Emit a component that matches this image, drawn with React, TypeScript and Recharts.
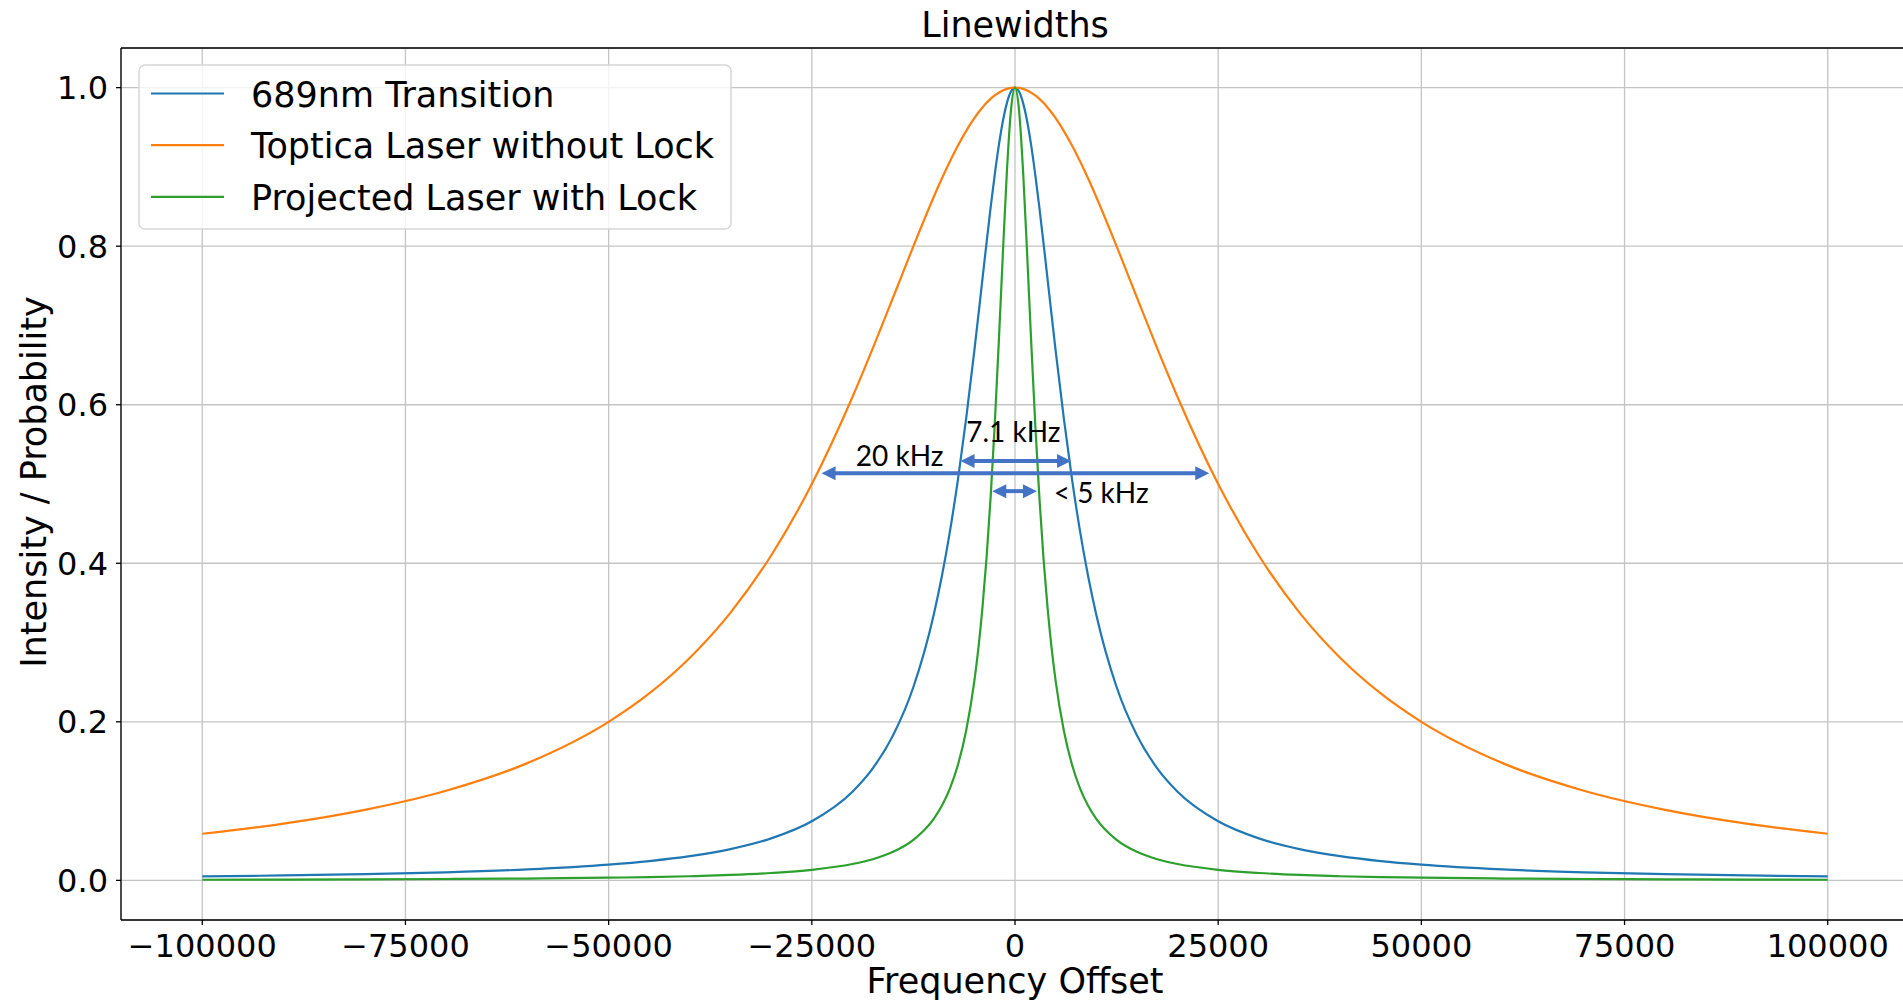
import {
  LineChart,
  Line,
  XAxis,
  YAxis,
  CartesianGrid,
  Legend,
  ReferenceLine,
  ReferenceDot,
} from 'recharts'

const FONT = '"DejaVu Sans", sans-serif'
const NOTE_FONT = 'Lato, "Open Sans", sans-serif'

// frequency offset samples (Hz)
const FREQ = [
  -100000, -90000, -80000, -70000, -60000, -50000, -45000, -40000, -35000, -30000, -25000,
  -20000, -17500, -15000, -12500, -10000, -9000, -8000, -7000, -6000, -5000, -4500, -4000,
  -3500, -3000, -2500, -2000, -1500, -1000, -500, 0, 500, 1000, 1500, 2000, 2500, 3000, 3500,
  4000, 4500, 5000, 6000, 7000, 8000, 9000, 10000, 12500, 15000, 17500, 20000, 25000, 30000,
  35000, 40000, 45000, 50000, 60000, 70000, 80000, 90000, 100000,
]

const TRANSITION = [
  0.005, 0.0062, 0.0078, 0.0102, 0.0138, 0.0198, 0.0243, 0.0305, 0.0395, 0.053, 0.0746,
  0.1119, 0.1413, 0.183, 0.2439, 0.3351, 0.3836, 0.4406, 0.5071, 0.5834, 0.6684, 0.7134, 0.7591,
  0.8045, 0.8485, 0.8897, 0.9265, 0.9573, 0.9805, 0.9951, 1.0, 0.9951, 0.9805, 0.9573, 0.9265,
  0.8897, 0.8485, 0.8045, 0.7591, 0.7134, 0.6684, 0.5834, 0.5071, 0.4406, 0.3836, 0.3351,
  0.2439, 0.183, 0.1413, 0.1119, 0.0746, 0.053, 0.0395, 0.0305, 0.0243, 0.0198, 0.0138, 0.0102,
  0.0078, 0.0062, 0.005,
]

const TOPTICA = [
  0.0588, 0.0716, 0.089, 0.1131, 0.1479, 0.2, 0.2358, 0.2809, 0.3378, 0.4098, 0.5, 0.6098,
  0.6711, 0.7353, 0.8, 0.8621, 0.8853, 0.9071, 0.9273, 0.9455, 0.9615, 0.9686, 0.975, 0.9808,
  0.9858, 0.9901, 0.9936, 0.9964, 0.9984, 0.9996, 1.0, 0.9996, 0.9984, 0.9964, 0.9936, 0.9901,
  0.9858, 0.9808, 0.975, 0.9686, 0.9615, 0.9455, 0.9273, 0.9071, 0.8853, 0.8621, 0.8, 0.7353,
  0.6711, 0.6098, 0.5, 0.4098, 0.3378, 0.2809, 0.2358, 0.2, 0.1479, 0.1131, 0.089, 0.0716,
  0.0588,
]

const PROJECTED = [
  0.0008, 0.001, 0.0013, 0.0017, 0.0023, 0.0034, 0.0041, 0.0052, 0.0068, 0.0093, 0.0133,
  0.0206, 0.0267, 0.036, 0.0511, 0.0776, 0.0941, 0.1161, 0.1465, 0.1894, 0.2517, 0.2934, 0.3446,
  0.407, 0.4831, 0.5737, 0.6777, 0.7889, 0.8937, 0.9711, 1.0, 0.9711, 0.8937, 0.7889, 0.6777,
  0.5737, 0.4831, 0.407, 0.3446, 0.2934, 0.2517, 0.1894, 0.1465, 0.1161, 0.0941, 0.0776,
  0.0511, 0.036, 0.0267, 0.0206, 0.0133, 0.0093, 0.0068, 0.0052, 0.0041, 0.0034, 0.0023, 0.0017,
  0.0013, 0.001, 0.0008,
]

const X_TICKS = [-100000, -75000, -50000, -25000, 0, 25000, 50000, 75000, 100000]
const Y_TICKS = [0, 0.2, 0.4, 0.6, 0.8, 1.0]

const SERIES = [
  { key: 'transition', name: '689nm Transition', color: '#1f77b4' },
  { key: 'toptica', name: 'Toptica Laser without Lock', color: '#ff7f0e' },
  { key: 'projected', name: 'Projected Laser with Lock', color: '#2ca02c' },
]

// linewidth markers pasted over the plot
const ARROWS = [
  { from: -6700, to: 6900, y: 0.529 },
  { from: -23800, to: 23900, y: 0.5135 },
  { from: -2800, to: 2700, y: 0.491 },
]
const ARROW_LABELS = [
  { x: -200, y: 0.553, text: '7.1 kHz' },
  { x: -14200, y: 0.523, text: '20 kHz' },
  { x: 10600, y: 0.476, text: '< 5 kHz' },
]

const data = FREQ.map((f, i) => ({
  f,
  transition: TRANSITION[i],
  toptica: TOPTICA[i],
  projected: PROJECTED[i],
}))

const fmtX = (v: number) => (v < 0 ? '\u2212' + Math.abs(v) : String(v))
const fmtY = (v: number) => v.toFixed(1)

const ARROW_BLUE = '#4472c4'

function ArrowShape(props: any) {
  const { x1, y1, x2, y2 } = props
  const head = 14
  const half = 7
  const y = (y1 + y2) / 2
  const a = Math.min(x1, x2)
  const b = Math.max(x1, x2)
  return (
    <g>
      <line x1={a + head - 1} y1={y} x2={b - head + 1} y2={y} stroke={ARROW_BLUE} strokeWidth={4} />
      <polygon points={`${a},${y} ${a + head},${y - half} ${a + head},${y + half}`} fill={ARROW_BLUE} />
      <polygon points={`${b},${y} ${b - head},${y - half} ${b - head},${y + half}`} fill={ARROW_BLUE} />
    </g>
  )
}

function renderLegend() {
  return (
    <svg width={594} height={166} style={{ display: 'block' }}>
      <rect
        x={1}
        y={1}
        width={592}
        height={164}
        rx={6}
        fill="rgba(255,255,255,0.8)"
        stroke="#d6d6d6"
        strokeWidth={1.5}
      />
      {SERIES.map((s, i) => {
        const cy = 29.5 + i * 51.7
        return (
          <g key={s.key}>
            <line x1={13} y1={cy} x2={86} y2={cy} stroke={s.color} strokeWidth={2.2} />
            <text x={113} y={cy + 13} fontSize={35} fontFamily={FONT} fill="#000">
              {s.name}
            </text>
          </g>
        )
      })}
    </svg>
  )
}

export default function App() {
  return (
    <div
      style={{
        position: 'absolute',
        left: 0,
        top: 0,
        width: 1903,
        height: 1004,
        overflow: 'hidden',
        background: '#fff',
        fontFamily: FONT,
      }}
    >
      <LineChart width={1912} height={1004} data={data} margin={{ top: 48, right: 3, bottom: 0, left: 0 }}>
        <CartesianGrid stroke="#c4c4c4" strokeWidth={1.3} />
        <XAxis
          dataKey="f"
          type="number"
          domain={[-110000, 110000]}
          ticks={X_TICKS}
          interval={0}
          tickFormatter={fmtX}
          height={84}
          tickSize={5}
          tickMargin={9}
          stroke="#000"
          strokeWidth={1.3}
          tick={{ fill: '#000', fontSize: 32, fontFamily: FONT }}
          allowDataOverflow
          label={{
            content: () => (
              <text x={1015} y={993} textAnchor="middle" fontSize={35} fontFamily={FONT} fill="#000">
                Frequency Offset
              </text>
            ),
          }}
        />
        <YAxis
          type="number"
          domain={[-0.05, 1.05]}
          ticks={Y_TICKS}
          interval={0}
          tickFormatter={fmtY}
          width={121}
          tickSize={5}
          tickMargin={8}
          stroke="#000"
          strokeWidth={1.3}
          tick={{ fill: '#000', fontSize: 32, fontFamily: FONT }}
          allowDataOverflow
          label={{
            content: () => (
              <text
                x={46}
                y={482}
                transform="rotate(-90 46 482)"
                textAnchor="middle"
                fontSize={35}
                fontFamily={FONT}
                fill="#000"
              >
                Intensity / Probability
              </text>
            ),
          }}
        />
        <ReferenceLine y={1.05} stroke="#000" strokeWidth={1.3} />
        <ReferenceLine x={110000} stroke="#000" strokeWidth={1.3} />
        {SERIES.map((s) => (
          <Line
            key={s.key}
            type="monotone"
            dataKey={s.key}
            name={s.name}
            stroke={s.color}
            strokeWidth={2.2}
            dot={false}
            activeDot={false}
            isAnimationActive={false}
          />
        ))}
        {ARROWS.map((a, i) => (
          <ReferenceLine
            key={'arrow' + i}
            segment={[
              { x: a.from, y: a.y },
              { x: a.to, y: a.y },
            ]}
            ifOverflow="visible"
            shape={ArrowShape}
          />
        ))}
        {ARROW_LABELS.map((l) => (
          <ReferenceDot
            key={l.text}
            x={l.x}
            y={l.y}
            r={0}
            ifOverflow="visible"
            shape={(p: any) => (
              <text x={p.cx} y={p.cy} textAnchor="middle" fontSize={28} fontFamily={NOTE_FONT} fill="#000">
                {l.text}
              </text>
            )}
          />
        ))}
        <Legend
          layout="vertical"
          align="center"
          verticalAlign="middle"
          wrapperStyle={{ left: 138, top: 64, width: 594, height: 166 }}
          content={renderLegend}
        />
      </LineChart>
      <svg width={1903} height={48} style={{ position: 'absolute', left: 0, top: 0 }}>
        <text x={1015} y={37} textAnchor="middle" fontSize={35} fontFamily={FONT} fill="#000">
          Linewidths
        </text>
      </svg>
    </div>
  )
}
